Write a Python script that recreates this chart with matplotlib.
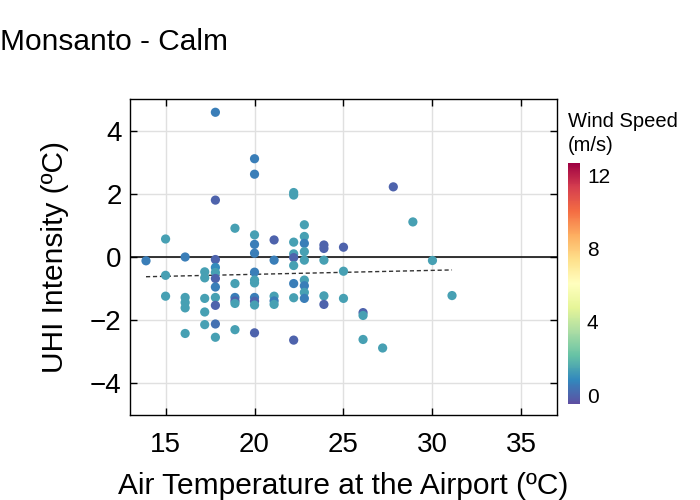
import numpy as np
import matplotlib
matplotlib.use("Agg")
import matplotlib.pyplot as plt

plt.rcParams['font.family'] = ['Liberation Sans', 'DejaVu Sans']

# air temperature at the airport (C), UHI intensity (C), wind speed (m/s)
temp = [13.9,
        15.0, 15.0, 15.0,
        16.1, 16.1, 16.1, 16.1, 16.1,
        17.2, 17.2, 17.2, 17.2, 17.2,
        17.8, 17.8, 17.8, 17.8, 17.8, 17.8, 17.8, 17.8, 17.8, 17.8, 17.8,
        18.9, 18.9, 18.9, 18.9, 18.9, 18.9,
        20.0, 20.0, 20.0, 20.0, 20.0, 20.0, 20.0, 20.0, 20.0, 20.0, 20.0, 20.0,
        21.1, 21.1, 21.1, 21.1, 21.1,
        22.2, 22.2, 22.2, 22.2, 22.2, 22.2, 22.2, 22.2, 22.2,
        22.8, 22.8, 22.8, 22.8, 22.8, 22.8, 22.8, 22.8, 22.8,
        23.9, 23.9, 23.9, 23.9, 23.9,
        25.0, 25.0, 25.0,
        26.1, 26.1, 26.1,
        27.2, 27.8, 28.9, 30.0, 31.1]
uhi = [-0.12,
       0.57, -0.58, -1.24,
       0.0, -1.28, -1.44, -1.61, -2.42,
       -0.47, -0.66, -1.31, -1.74, -2.14,
       4.58, 1.80, -0.08, -0.33, -0.49, -0.68, -0.95, -1.28, -1.53, -2.12, -2.54,
       0.91, -0.84, -1.28, -1.39, -1.47, -2.30,
       3.11, 2.62, 0.70, 0.40, 0.12, -0.48, -0.73, -0.82, -1.28, -1.40, -1.52, -2.40,
       0.54, -0.10, -1.24, -1.39, -1.50,
       2.04, 1.96, 0.47, 0.10, -0.02, -0.27, -0.84, -1.29, -2.63,
       1.02, 0.65, 0.43, 0.17, -0.10, -0.73, -0.91, -1.12, -1.31,
       0.38, 0.27, -0.10, -1.23, -1.50,
       0.31, -0.45, -1.31,
       -1.76, -1.85, -2.61,
       -2.88, 2.22, 1.11, -0.11, -1.22]
wind = [0.6,
        1.4, 1.4, 1.4,
        0.6, 1.4, 1.4, 1.4, 1.4,
        1.4, 1.4, 1.4, 1.4, 1.4,
        0.6, 0, 0, 0.9, 1.4, 0, 0.6, 1.4, 0, 0.3, 1.4,
        1.4, 1.4, 0.6, 0, 1.4, 1.4,
        0.6, 0.6, 1.4, 0.6, 0.6, 0.6, 1.4, 1.4, 0.6, 0, 1.4, 0,
        0, 0.6, 1.4, 0.6, 1.4,
        1.4, 1.4, 1.4, 1.4, 0, 1.4, 0.6, 1.4, 0,
        1.4, 1.4, 0.6, 1.4, 1.4, 1.4, 0.6, 1.4, 0.6,
        0, 0, 1.4, 1.4, 0,
        0, 1.4, 1.4,
        0, 1.4, 1.4,
        1.4, 0, 1.4, 1.4, 1.4]

# linear trend
trend_slope = 0.0125
trend_intercept = -0.798

x_ticks = [15, 20, 25, 30, 35]
y_ticks = [-4, -2, 0, 2, 4]
cbar_ticks = [0, 4, 8, 12]

fig = plt.figure(figsize=(7, 5), dpi=100)
ax = fig.add_axes([0.1857, 0.17, 0.61, 0.632])

ax.grid(True, color='#e0e0e0', linewidth=1, zorder=0)
ax.axhline(0, color='black', linewidth=1.1, zorder=2)

sc = ax.scatter(temp, uhi, c=wind, cmap='Spectral_r', vmin=-0.5, vmax=12.7,
                s=44, linewidths=0, zorder=4)

xs = np.array([min(temp), max(temp)])
ax.plot(xs, trend_intercept + trend_slope * xs, linestyle=(0, (3, 2)),
        color='#333333', linewidth=1, zorder=3)

ax.set_xlim(13, 37)
ax.set_ylim(-5, 5)
ax.set_xticks(x_ticks)
ax.set_yticks(y_ticks)
ax.tick_params(direction='in', length=5, width=1, top=True, right=True,
               labelsize=20)
ax.tick_params(axis='x', pad=12)
ax.tick_params(axis='y', pad=6)
ax.set_xlabel('Air Temperature at the Airport (ºC)', fontsize=21.5, labelpad=10)
ax.set_ylabel('UHI Intensity (ºC)', fontsize=21.5, labelpad=15)
for sp in ax.spines.values():
    sp.set_linewidth(1)

fig.text(0.0, 0.9, 'Monsanto - Calm', fontsize=21.5, va='baseline', ha='left')

cax = fig.add_axes([0.8114, 0.1914, 0.0171, 0.483])
cb = fig.colorbar(sc, cax=cax, ticks=cbar_ticks)
cb.outline.set_visible(False)
cax.tick_params(length=0, labelsize=15, pad=5)
fig.text(0.8114, 0.733, 'Wind Speed\n(m/s)', fontsize=14.5, ha='left', va='center',
         linespacing=1.35)

fig.savefig('out.png', dpi=100)
